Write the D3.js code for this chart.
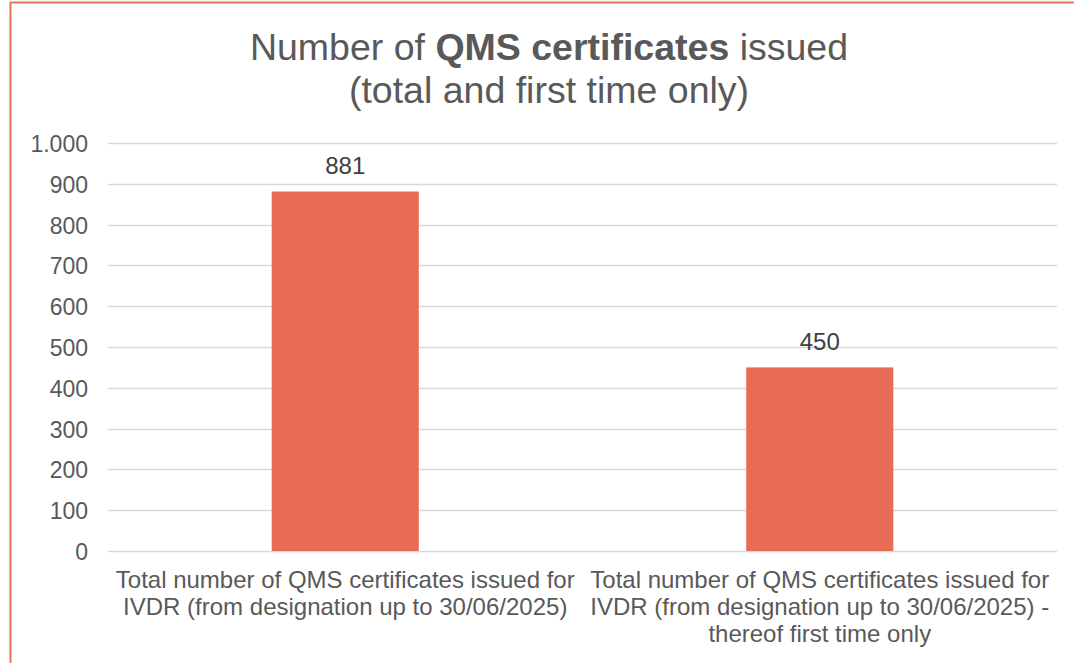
<!DOCTYPE html>
<html><head><meta charset="utf-8">
<script src="https://cdn.jsdelivr.net/npm/d3@7"></script>
<style>body{margin:0;background:#fff;}svg{display:block;font-family:"Liberation Sans",Arial,sans-serif;}</style>
</head><body>
<script>
const categories = [
  ["Total number of QMS certificates issued for", "IVDR (from designation up to 30/06/2025)"],
  ["Total number of QMS certificates issued for", "IVDR (from designation up to 30/06/2025) -", "thereof first time only"]
];
const values = [881, 450];
const tickValues = [0,100,200,300,400,500,600,700,800,900,1000];
const tickLabels = ["0","100","200","300","400","500","600","700","800","900","1.000"];

(function(){
const W = 1074, H = 663;
const svg = d3.select("body").append("svg").attr("width", W).attr("height", H);
svg.append("rect").attr("width", W).attr("height", H).attr("fill", "#fff");
// border (top & left visible)
svg.append("line").attr("x1",10).attr("x2",W).attr("y1",2.5).attr("y2",2.5).attr("stroke","#E8735A").attr("stroke-width",2);
svg.append("line").attr("x1",10.5).attr("x2",10.5).attr("y1",2).attr("y2",H).attr("stroke","#E8735A").attr("stroke-width",2);

const pL = 108, pR = 1057, pT = 143, pB = 551;
const x = d3.scaleBand().domain(d3.range(values.length)).range([pL, pR]).paddingInner(0.69).paddingOuter(0.345);
const y = d3.scaleLinear().domain([0, 1000]).range([pB, pT]);

// title
const title = svg.append("text").attr("text-anchor","middle").attr("fill","#595959").attr("font-size",37.5);
const t1 = title.append("tspan").attr("x",549).attr("y",60);
t1.append("tspan").text("Number of ");
t1.append("tspan").attr("font-weight","bold").text("QMS certificates");
t1.append("tspan").text(" issued");
title.append("tspan").attr("x",549).attr("y",103).text("(total and first time only)");

// gridlines
svg.append("g").selectAll("line").data(tickValues).join("line")
  .attr("x1", pL).attr("x2", pR)
  .attr("y1", d => Math.round(y(d)) + 0.5).attr("y2", d => Math.round(y(d)) + 0.5)
  .attr("stroke", "#D9D9D9").attr("stroke-width", 1.5);

// y axis labels
const yAxis = d3.axisLeft(y).tickValues(tickValues).tickFormat((d,i) => tickLabels[i]).tickSize(0).tickPadding(0);
const gy = svg.append("g").attr("transform", `translate(88,0)`).call(yAxis);
gy.select(".domain").remove();
gy.selectAll("text").attr("fill","#595959").attr("font-size",23).attr("dy","0.37em").attr("font-family","Liberation Sans, Arial, sans-serif");

// bars
svg.append("g").selectAll("rect").data(values).join("rect")
  .attr("x", (d,i) => x(i)).attr("width", x.bandwidth())
  .attr("y", d => y(d)).attr("height", d => y(0) - y(d))
  .attr("fill", "#E86C55");

// data labels
svg.append("g").selectAll("text").data(values).join("text")
  .attr("x", (d,i) => x(i) + x.bandwidth()/2).attr("y", d => y(d) - 17.5)
  .attr("text-anchor","middle").attr("fill","#404040").attr("font-size",24)
  .text(d => d3.format(",")(d).replace(/,/g,"."));

// category labels
const cat = svg.append("g").selectAll("text").data(categories).join("text")
  .attr("text-anchor","middle").attr("fill","#595959").attr("font-size",24);
cat.each(function(lines, i){
  const cx = pL + (pR-pL)/values.length*(i+0.5);
  d3.select(this).selectAll("tspan").data(lines).join("tspan")
    .attr("x", cx).attr("y", (d,j) => 588 + j*27).text(d => d);
});
})();
</script>
</body></html>
